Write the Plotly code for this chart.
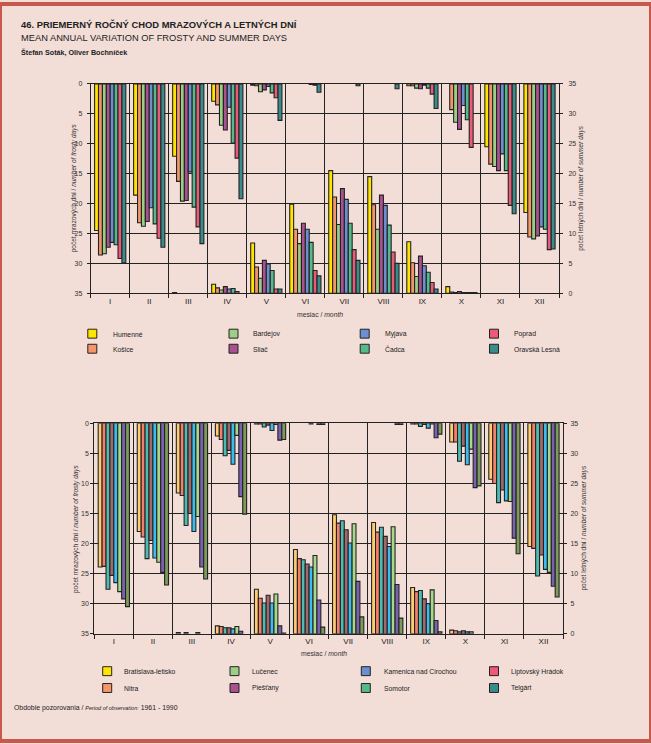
import plotly.graph_objects as go

W, H = 651, 744

months = ["I", "II", "III", "IV", "V", "VI", "VII", "VIII", "IX", "X", "XI", "XII"]

# ---------- Panel 1 ----------
stations1 = ["Humenné", "Košice", "Bardejov", "Sliač", "Myjava", "Čadca", "Poprad", "Oravská Lesná"]
# frosty days, rows = months, columns = stations
frost1 = [
    [24.5, 28.6, 28.4, 27.3, 26.5, 26.9, 29.2, 29.9],
    [18.6, 23.2, 23.8, 23.0, 20.7, 23.4, 25.8, 27.3],
    [12.1, 16.3, 19.6, 19.5, 14.7, 20.6, 23.9, 26.7],
    [2.9, 3.5, 6.9, 7.7, 3.9, 9.9, 12.4, 19.2],
    [0.2, 0.3, 1.3, 1.0, 0.4, 1.5, 2.3, 6.1],
    [0, 0, 0, 0, 0, 0.1, 0.2, 1.4],
    [0, 0, 0, 0, 0, 0, 0, 0.3],
    [0, 0, 0, 0, 0, 0, 0, 0.8],
    [0.3, 0.3, 0.7, 0.8, 0.2, 0.7, 1.7, 4.1],
    [0, 4.3, 6.4, 7.6, 3.6, 6.0, 10.6, 0],
    [10.5, 13.4, 13.8, 14.5, 11.7, 14.5, 20.3, 21.7],
    [21.5, 25.6, 25.9, 25.4, 23.9, 24.3, 27.7, 27.6],
]
summer1 = [
    [0, 0, 0, 0, 0, 0, 0, 0],
    [0, 0, 0, 0, 0, 0, 0, 0],
    [0.1, 0, 0, 0, 0, 0, 0, 0],
    [1.5, 0.9, 0.55, 1.1, 0.7, 0.8, 0.3, 0],
    [8.4, 4.4, 2.5, 5.5, 4.9, 3.8, 0.7, 0.7],
    [14.9, 10.7, 8.3, 11.7, 10.7, 8.5, 3.8, 2.9],
    [20.5, 16.1, 11.5, 17.5, 15.7, 11.7, 7.3, 5.5],
    [19.5, 14.8, 10.7, 16.4, 14.7, 11.4, 6.9, 5.0],
    [8.6, 5.1, 2.8, 6.2, 4.6, 3.5, 1.8, 0.7],
    [1.1, 0.2, 0.1, 0.3, 0.1, 0.1, 0.1, 0.1],
    [0, 0, 0, 0, 0, 0, 0, 0],
    [0, 0, 0, 0, 0, 0, 0, 0],
]

# ---------- Panel 2 ----------
stations2 = ["Bratislava-letisko", "Nitra", "Lučenec", "Piešťany", "Kamenica nad Cirochou",
             "Somotor", "Liptovský Hrádok", "Telgárt"]
frost2 = [
    [23.9, 23.8, 27.6, 25.3, 26.5, 28.0, 29.2, 30.5],
    [18.0, 18.9, 22.5, 19.5, 22.4, 23.1, 24.8, 26.9],
    [11.6, 12.0, 17.0, 15.0, 18.0, 15.5, 23.9, 25.9],
    [2.1, 2.7, 5.4, 4.5, 6.8, 2.0, 12.2, 15.1],
    [0.1, 0.1, 0.6, 0.3, 1.2, 0.2, 2.8, 2.7],
    [0, 0, 0, 0, 0.1, 0, 0.2, 0.2],
    [0, 0, 0, 0, 0, 0, 0, 0],
    [0, 0, 0, 0, 0, 0, 0.2, 0.2],
    [0.1, 0.1, 0.5, 0.2, 0.8, 0.1, 2.4, 1.8],
    [3.1, 3.1, 6.3, 3.8, 6.9, 4.3, 10.7, 10.4],
    [9.3, 10.0, 13.2, 11.1, 12.9, 13.0, 19.1, 21.7],
    [20.5, 20.8, 25.4, 21.9, 24.3, 24.8, 27.1, 28.9],
]
summer2 = [
    [0, 0, 0, 0, 0, 0, 0, 0],
    [0, 0, 0, 0, 0, 0, 0, 0],
    [0.2, 0, 0.2, 0, 0, 0.2, 0, 0],
    [1.3, 1.2, 1.0, 1.0, 0.8, 1.2, 0.4, 0],
    [7.4, 5.9, 5.1, 6.4, 5.1, 6.6, 1.3, 0.1],
    [14.0, 12.5, 12.3, 11.6, 11.1, 13.0, 5.6, 1.1],
    [19.8, 18.4, 18.8, 17.3, 15.1, 18.3, 8.7, 2.8],
    [18.5, 16.9, 17.7, 16.2, 14.5, 17.8, 8.2, 2.6],
    [7.7, 7.0, 7.2, 5.8, 5.0, 7.3, 2.2, 0.3],
    [0.6, 0.5, 0.3, 0.5, 0.3, 0.3, 0, 0],
    [0, 0, 0, 0, 0, 0, 0, 0],
    [0, 0, 0, 0, 0, 0, 0, 0],
]

legend_colors = ["#ffe400", "#f4956a", "#9ccf86", "#a8528f", "#6b8fcf", "#56b98b", "#eb5a78", "#3a8c8c"]
bar_colors1 = legend_colors
bar_colors2 = ["#ffcc72", "#f4806c", "#4dbdb4", "#a06a6c", "#3bbdf0", "#a6d98a", "#7b62b0", "#7b9a5b"]

BG = "#f2ddd7"
INK = "#222222"
TXT = "#333333"
FONT = "Liberation Sans, Arial, sans-serif"


def X(px):
    return px / W


def Y(py):
    return 1 - py / H


fig = go.Figure()
xs = list(range(1, 13))
n = 8
bw = 0.1


def add_panel(frost, summer, colors, xa, yf, ys):
    for i in range(n):
        fv = [row[i] if row[i] > 0 else None for row in frost]
        sv = [row[i] if row[i] > 0 else None for row in summer]
        off = -0.4 + i * bw
        common = dict(width=bw, offset=off, showlegend=False, hoverinfo="skip",
                      marker=dict(color=colors[i], line=dict(color=INK, width=1.1)))
        fig.add_trace(go.Bar(x=xs, y=fv, xaxis=xa, yaxis=yf, **common))
        fig.add_trace(go.Bar(x=xs, y=sv, xaxis=xa, yaxis=ys, **common))


add_panel(frost1, summer1, bar_colors1, "x", "y", "y2")
add_panel(frost2, summer2, bar_colors2, "x2", "y3", "y4")

yt = list(range(0, 36, 5))
tickfont = dict(family=FONT, size=7, color=TXT)


def xaxis_cfg(dom, anchor):
    return dict(domain=dom, anchor=anchor, range=[0.5, 12.5], tickvals=xs, ticktext=months,
                ticks="", showgrid=False, zeroline=False, showline=True, mirror=True,
                linecolor=INK, linewidth=1,
                tickfont=dict(family=FONT, size=8, color="#222"),
                minor=dict(tickmode="linear", tick0=0.5, dtick=1, ticks="outside", ticklen=4,
                           tickcolor=INK, tickwidth=1, showgrid=True, gridcolor=INK, gridwidth=1))


def yfrost_cfg(dom, anchor, standoff):
    return dict(domain=dom, anchor=anchor, range=[35, 0], tickvals=yt, ticks="outside",
                ticklen=3, tickcolor=INK, showgrid=True, gridcolor=INK, gridwidth=1,
                zeroline=False, showline=True, mirror=True, linecolor=INK, linewidth=1,
                tickfont=tickfont, ticklabelstandoff=standoff)


def ysummer_cfg(over, anchor, standoff):
    return dict(overlaying=over, anchor=anchor, side="right", range=[0, 35], tickvals=yt,
                ticks="outside", ticklen=3, tickcolor=INK, showgrid=False, zeroline=False,
                showline=False, tickfont=tickfont, ticklabelstandoff=standoff)


p1x = [X(90.7), X(559)]
p1y = [Y(292), Y(80.7)]
p2x = [X(94.3), X(563)]
p2y = [Y(635.7), Y(423.3)]

fig.update_layout(
    width=W, height=H, margin=dict(l=0, r=0, t=0, b=0),
    paper_bgcolor=BG, plot_bgcolor=BG, barmode="overlay",
    xaxis=xaxis_cfg(p1x, "y"),
    yaxis=yfrost_cfg(p1y, "x", 3),
    yaxis2=ysummer_cfg("y", "x", 4),
    xaxis2=xaxis_cfg(p2x, "y3"),
    yaxis3=yfrost_cfg(p2y, "x2", 0),
    yaxis4=ysummer_cfg("y3", "x2", 2),
    font=dict(family=FONT, color=TXT),
)

ann = []
shapes = []


def text(x, y, s, size, xanchor="left", angle=0, bold=False, color="#222"):
    if bold:
        s = "<b>" + s + "</b>"
    ann.append(dict(x=X(x), y=Y(y), xref="paper", yref="paper", text=s, showarrow=False,
                    xanchor=xanchor, yanchor="middle", textangle=angle,
                    font=dict(family=FONT, size=size, color=color)))


# titles
text(19, 20.5, "46. PRIEMERNÝ ROČNÝ CHOD MRAZOVÝCH A LETNÝCH DNÍ", 9.4, bold=True)
text(19, 34.5, "MEAN ANNUAL VARIATION OF FROSTY AND SUMMER DAYS", 9.3)
text(19, 49, "Štefan Soták, Oliver Bochníček", 7.2, bold=True)

left_title = "počet mrazových dní / <i>number of frosty days</i>"
right_title = "počet letných dní / <i>number of summer days</i>"
xlab = "mesiac / <i>month</i>"

# panel 1 axis titles
text(74, 186, left_title, 6.5, xanchor="center", angle=-90, color=TXT)
text(581.5, 186, right_title, 6.5, xanchor="center", angle=-90, color=TXT)
text(319.5, 313.3, xlab, 6.8, xanchor="center", color=TXT)
# panel 2 axis titles
text(75.5, 529.5, left_title, 6.5, xanchor="center", angle=-90, color=TXT)
text(584, 529.5, right_title, 6.5, xanchor="center", angle=-90, color=TXT)
text(324, 656, xlab, 6.8, xanchor="center", color=TXT)


def legend(names, sq_x, txt_x, rows_y):
    for i, name in enumerate(names):
        col, row = divmod(i, 2)
        cx, cy = sq_x[col], rows_y[row]
        shapes.append(dict(type="rect", xref="paper", yref="paper",
                           x0=X(cx - 4.5), x1=X(cx + 4.5), y0=Y(cy + 4.5), y1=Y(cy - 4.5),
                           fillcolor=legend_colors[i], line=dict(color=INK, width=1)))
        text(txt_x[col], cy + 0.5, name, 6.8, color="#222")


legend(stations1, [92.3, 233.5, 364.7, 494], [110.7, 251, 382.7, 512.3], [332.8, 348])
legend(stations2, [107.2, 234.5, 365.8, 494], [121.7, 250, 381.7, 509.3], [673.5, 690.5])

# footer
text(12, 710.5, "Obdobie pozorovania / <i><span style='font-size:5.5px'>Period of observation:</span></i> 1961 - 1990", 6.9)

# outer border
shapes.append(dict(type="rect", xref="paper", yref="paper", x0=0, x1=1, y0=0, y1=1,
                   line=dict(color="#c8574c", width=4), fillcolor="rgba(0,0,0,0)", layer="above"))

fig.update_layout(annotations=ann, shapes=shapes)
fig.write_html("out.html", config={"displayModeBar": False},
               post_script="document.body.style.margin='0';document.body.style.padding='0';")
